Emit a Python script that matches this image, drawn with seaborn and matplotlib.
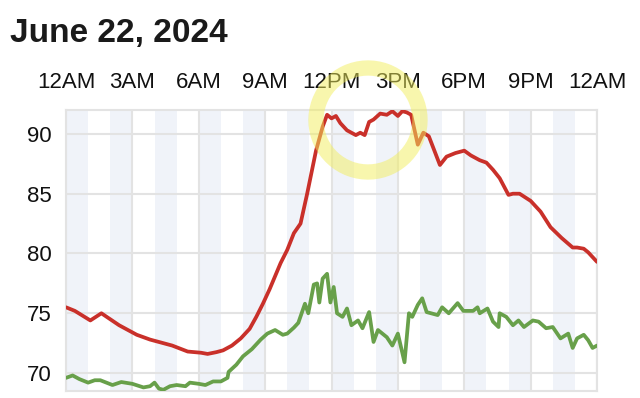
import matplotlib
matplotlib.use("Agg")
import matplotlib.pyplot as plt
from matplotlib.patches import Ellipse
import pandas as pd
import seaborn as sns

# red series (hour of day, value)
red_hours = [0.0, 0.4, 1.1, 1.6, 2.4, 3.2, 3.8, 4.8, 5.5, 6.1, 6.4, 6.8, 7.1,
             7.5, 7.9, 8.3, 8.6, 8.9, 9.2, 9.7, 10.0, 10.3, 10.6, 10.9, 11.3,
             11.6, 11.8, 12.0, 12.2, 12.4, 12.7, 12.9, 13.1, 13.3, 13.5, 13.7,
             13.9, 14.2, 14.5, 14.75, 15.0, 15.2, 15.4, 15.6, 15.9, 16.15,
             16.4, 16.9, 17.2, 17.6, 18.0, 18.3, 18.7, 19.0, 19.3, 19.6, 20.0,
             20.2, 20.5, 21.0, 21.45, 21.9, 22.4, 22.9, 23.1, 23.4, 23.6, 24.0]
red_vals = [75.5, 75.2, 74.4, 75.0, 74.0, 73.2, 72.8, 72.3, 71.8, 71.7, 71.6,
            71.75, 71.9, 72.3, 72.9, 73.7, 74.7, 75.8, 77.0, 79.2, 80.3, 81.7,
            82.5, 85.0, 88.6, 90.6, 91.6, 91.3, 91.5, 90.9, 90.3, 90.1, 89.9,
            90.1, 89.9, 91.0, 91.2, 91.7, 91.6, 91.9, 91.5, 91.9, 91.8, 91.6,
            89.1, 90.1, 89.8, 87.4, 88.1, 88.4, 88.6, 88.2, 87.8, 87.6, 87.0,
            86.3, 84.9, 85.0, 85.0, 84.4, 83.5, 82.2, 81.3, 80.5, 80.5, 80.4,
            80.1, 79.3]

# green series (hour of day, value)
green_hours = [0.0, 0.3, 0.6, 1.0, 1.3, 1.55, 2.1, 2.5, 3.0, 3.5, 3.8, 4.0,
               4.2, 4.4, 4.7, 5.0, 5.4, 5.6, 6.0, 6.3, 6.65, 7.0, 7.3, 7.35,
               7.7, 8.0, 8.4, 8.8, 9.1, 9.45, 9.8, 10.0, 10.3, 10.5, 10.8,
               10.95, 11.2, 11.35, 11.45, 11.6, 11.8, 11.95, 12.1, 12.25, 12.5,
               12.7, 12.9, 13.2, 13.4, 13.7, 13.9, 14.1, 14.5, 14.75, 15.0,
               15.3, 15.5, 15.65, 15.9, 16.1, 16.3, 16.8, 17.0, 17.3, 17.7,
               17.96, 18.4, 18.6, 18.7, 19.05, 19.3, 19.55, 19.6, 19.9, 20.2,
               20.45, 20.7, 21.1, 21.36, 21.7, 22.0, 22.35, 22.7, 22.9, 23.1,
               23.4, 23.6, 23.8, 24.0]
green_vals = [69.6, 69.8, 69.5, 69.2, 69.4, 69.4, 69.0, 69.25, 69.1, 68.8,
              68.9, 69.2, 68.7, 68.6, 68.9, 69.0, 68.9, 69.2, 69.1, 69.0, 69.3,
              69.3, 69.6, 70.1, 70.7, 71.4, 72.0, 72.8, 73.3, 73.6, 73.2, 73.3,
              73.8, 74.2, 75.8, 75.0, 77.4, 77.5, 75.9, 77.9, 78.3, 75.9, 77.2,
              75.0, 74.7, 75.4, 74.0, 74.4, 73.75, 75.1, 72.6, 73.6, 73.0,
              72.3, 73.3, 70.9, 75.0, 74.7, 75.7, 76.25, 75.1, 74.85, 75.5,
              75.0, 75.85, 75.2, 75.2, 75.5, 75.0, 75.4, 74.3, 73.85, 75.0,
              74.7, 74.0, 74.4, 73.85, 74.4, 74.3, 73.75, 73.85, 72.9, 73.3,
              72.1, 72.9, 73.2, 72.75, 72.1, 72.3]

tick_hours = [0, 3, 6, 9, 12, 15, 18, 21, 24]
tick_labels = ["12AM", "3AM", "6AM", "9AM", "12PM", "3PM", "6PM", "9PM", "12AM"]
y_ticks = [70, 75, 80, 85, 90]
title = "June 22, 2024"

red_df = pd.DataFrame({"hour": red_hours, "value": red_vals})
green_df = pd.DataFrame({"hour": green_hours, "value": green_vals})

sns.set_style("white")
plt.rcParams["font.family"] = ["Liberation Sans", "DejaVu Sans"]

fig = plt.figure(figsize=(6.4, 3.98), dpi=100)
ax = fig.add_axes([66 / 640, 7 / 398, 531 / 640, 281 / 398])

# alternating hour bands
for h in range(0, 24, 2):
    ax.axvspan(h, h + 1, color="#f0f3f9", lw=0, zorder=0)

sns.lineplot(data=green_df, x="hour", y="value", ax=ax, color="#68a04a",
             lw=2.7, zorder=3)
sns.lineplot(data=red_df, x="hour", y="value", ax=ax, color="#c9302a",
             lw=2.7, zorder=3)

ax.set_xlim(0, 24)
ax.set_ylim(68.5, 92.0)
ax.set_xticks(tick_hours)
ax.set_xticklabels(tick_labels)
ax.set_yticks(y_ticks)
ax.xaxis.tick_top()
ax.tick_params(axis="x", length=0, pad=12, labelsize=16, labelcolor="#111111")
ax.tick_params(axis="y", length=0, pad=10, labelsize=16, labelcolor="#111111")
ax.set_xlabel("")
ax.set_ylabel("")
ax.grid(True, color="#e3e3e3", lw=1.5, zorder=1)
ax.set_axisbelow(True)
for s in ax.spines.values():
    s.set_color("#e3e3e3")
    s.set_linewidth(1.5)

fig.text(10 / 640, 1 - 42 / 398, title, fontsize=24, fontweight="bold",
         color="#1a1a1a", va="baseline", ha="left")

# hand-drawn style highlight
hl = Ellipse((368, 398 - 120), 104, 104, angle=-20, fill=False,
             edgecolor="#f2ee5c", lw=11, alpha=0.5, transform=None, zorder=10)
fig.patches.append(hl)

fig.savefig("out.png", dpi=100)
